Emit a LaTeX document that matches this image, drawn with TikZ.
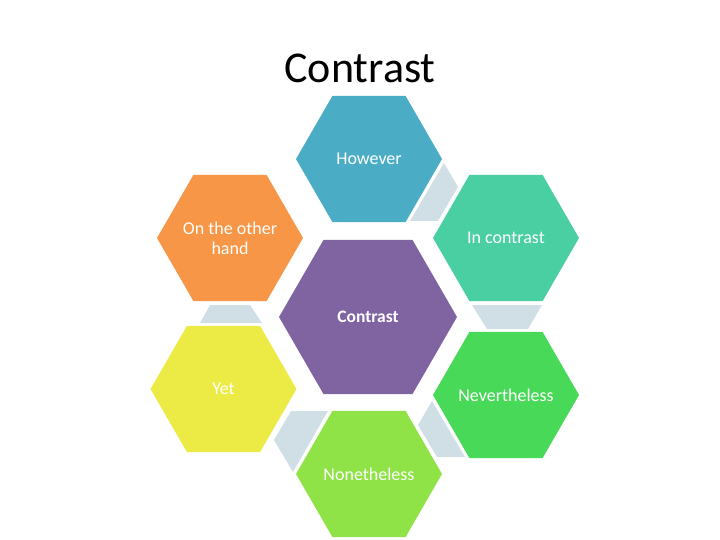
\documentclass[tikz,border=0pt]{standalone}
\usepackage{fontspec}
\setmainfont{Carlito}
\usetikzlibrary{shapes.geometric,calc}

\definecolor{hexblue}{HTML}{4BACC6}
\definecolor{hexorange}{HTML}{F79646}
\definecolor{hexteal}{HTML}{4ACFA3}
\definecolor{hexpurple}{HTML}{8064A2}
\definecolor{hexyellow}{HTML}{ECEA45}
\definecolor{hexgreen}{HTML}{48D958}
\definecolor{hexlime}{HTML}{8FE346}
\definecolor{linkgray}{HTML}{D0DEE6}

\tikzset{
  hexcell/.style={regular polygon,regular polygon sides=6,minimum size=146pt,
    inner sep=-12pt,outer sep=0pt,text=white,align=center,
    font=\fontsize{18}{20}\selectfont},
  linkcell/.style={fill=linkgray}
}

\begin{document}
\begin{tikzpicture}[x=1pt,y=-1pt]
    \useasboundingbox (0,0) rectangle (720,540);

    \node[anchor=base,font=\fontsize{44}{52}\selectfont] (title) at (360,83) {Contrast};

    % The big cell in the middle carries the topic again, in bold.
    \node[hexcell,minimum size=178pt,fill=hexpurple,
      font=\bfseries\fontsize{17.5}{20}\selectfont] (contrast) at (368,317) {Contrast};

    % Six cells round it, clockwise from the top.
    \node[hexcell,fill=hexblue] (however) at (369,159) {However};
    \node[hexcell,fill=hexteal] (incontrast) at (506,238) {In contrast};
    \node[hexcell,fill=hexgreen] (nevertheless) at (506,395) {Nevertheless};
    \node[hexcell,fill=hexlime] (nonetheless) at (369,474) {Nonetheless};
    \node[hexcell,fill=hexyellow] (yet) at (223.5,389) {Yet};
    \node[hexcell,fill=hexorange] (otherhand) at (230,238) {On the other\\hand};

    % Grey links sit in the gaps between neighbouring cells of the ring.
    \fill[linkcell] ($(however)+(75,4)$) -- ($(incontrast)+(-48,-51)$)
      -- ($(incontrast)+(-68,-17)$) -- ($(however)+(41,62)$) -- cycle;
    \fill[linkcell] ($(incontrast)+(-34,67)$) -- ($(incontrast)+(36,67)$)
      -- ($(nevertheless)+(22,-66)$) -- ($(nevertheless)+(-19,-66)$) -- cycle;
    \fill[linkcell] ($(nevertheless)+(-74,6)$) -- ($(nevertheless)+(-41,62)$)
      -- ($(nonetheless)+(68,-17)$) -- ($(nonetheless)+(49,-49)$) -- cycle;
    \fill[linkcell] ($(nonetheless)+(-41,-63)$) -- ($(nonetheless)+(-76,-2)$)
      -- ($(yet)+(50.5,51)$) -- ($(yet)+(67.5,22)$) -- cycle;
    \fill[linkcell] ($(otherhand)+(-20,67)$) -- ($(otherhand)+(20,67)$)
      -- ($(yet)+(38.5,-66)$) -- ($(yet)+(-23.5,-66)$) -- cycle;
\end{tikzpicture}
\end{document}
